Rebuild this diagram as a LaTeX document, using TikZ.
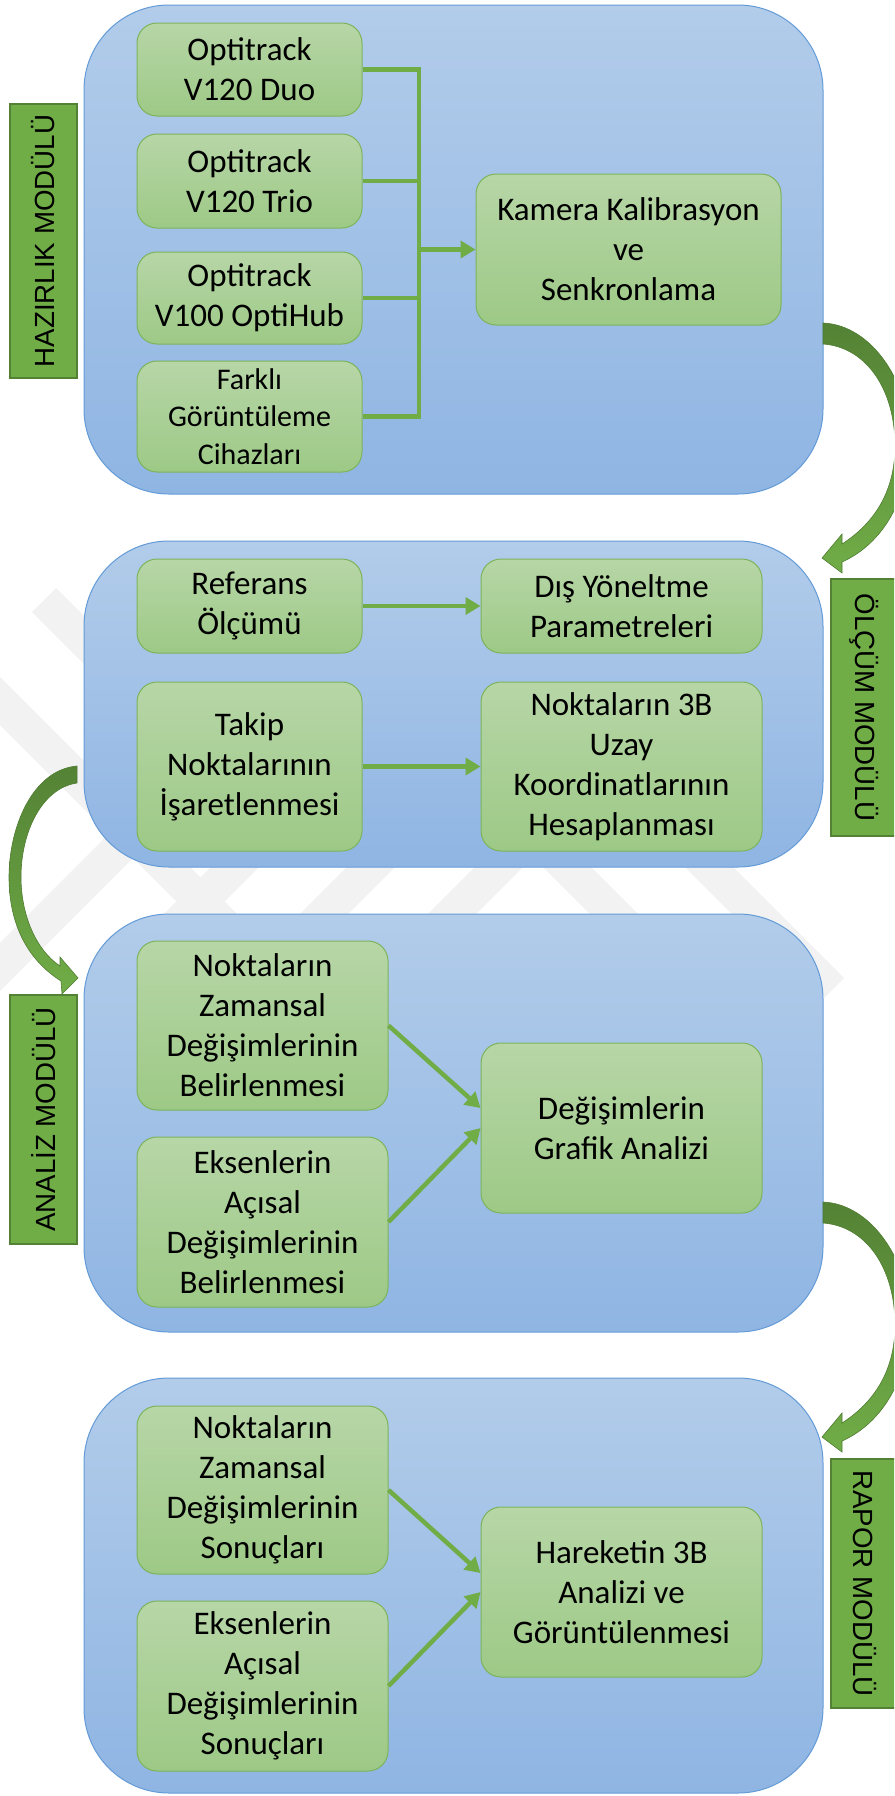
\documentclass[tikz,border=0pt]{standalone}
\usepackage{fontspec}
\setmainfont{Carlito}
\newfontfamily\labelfont{Liberation Sans}
\usetikzlibrary{arrows.meta,calc}
\definecolor{bluetop}{RGB}{178,204,234}
\definecolor{bluebot}{RGB}{143,181,227}
\definecolor{blueline}{RGB}{100,155,215}
\definecolor{greentop}{RGB}{183,214,167}
\definecolor{greenbot}{RGB}{157,201,134}
\definecolor{greenline}{RGB}{125,180,90}
\definecolor{conn}{RGB}{112,173,71}
\definecolor{labelfill}{RGB}{112,173,71}
\definecolor{labelline}{RGB}{84,130,53}
\definecolor{arrdark}{RGB}{84,130,53}
\definecolor{arrmid}{RGB}{92,142,58}
\definecolor{arrline}{RGB}{80,124,50}
\definecolor{wm}{RGB}{242,242,242}
\begin{document}
\begin{tikzpicture}[x=1pt,y=-1pt,
  module/.style={draw=blueline, line width=1pt, rounded corners=85pt, top color=bluetop, bottom color=bluebot, inner sep=0pt},
  item/.style={draw=greenline, line width=1pt, rounded corners=20pt, top color=greentop, bottom color=greenbot, align=center, inner sep=0pt, font=\fontsize{33}{40}\selectfont},
  sidelabel/.style={draw=labelline, line width=1.2pt, fill=labelfill, inner sep=0pt, minimum height=67pt, font=\labelfont\fontsize{27.7}{32}\selectfont},
  link/.style={draw=conn, line width=4.5pt},
  linkarrow/.style={link, -{Triangle[length=15pt,width=17pt]}},
  curvearrow/.style={draw=arrline, line width=0.6pt, top color=arrdark, middle color=arrmid, bottom color=conn},
  wmband/.style={draw=wm, line width=34pt}
]
\useasboundingbox (0,0) rectangle (894,1796);
\clip (0,0) rectangle (894,1796);

% faint watermark bands
\draw[wmband] (44,600) -- (250,806);
\draw[wmband] (-60,641) -- (250,951);
\draw[wmband] (-80,1047) -- (150,817);
\draw[wmband] (152,950) -- (272,830);
\draw[wmband] (288,950) -- (408,830);
\draw[wmband] (416,950) -- (536,830);
\draw[wmband] (530,830) -- (650,950);
\draw[wmband] (672,830) -- (832,990);

% module containers
\node[module, minimum width=739pt, minimum height=489pt] (m1) at (453.5,249.5) {};
\node[module, minimum width=739pt, minimum height=326pt] (m2) at (453.5,704) {};
\node[module, minimum width=739pt, minimum height=418pt] (m3) at (453.5,1123) {};
\node[module, minimum width=739pt, minimum height=415pt] (m4) at (453.5,1585.5) {};

% side labels
\node[sidelabel, minimum width=274pt, rotate=90] (l1) at (43.5,241) {HAZIRLIK MODÜLÜ};
\node[sidelabel, minimum width=257pt, rotate=-90] (l2) at (864.5,707.5) {ÖLÇÜM MODÜLÜ};
\node[sidelabel, minimum width=249pt, rotate=90] (l3) at (43.5,1119.5) {ANALİZ MODÜLÜ};
\node[sidelabel, minimum width=249pt, rotate=-90] (l4) at (864.5,1583.5) {RAPOR MODÜLÜ};

% curved block arrows between modules
\begin{scope}[shift={(0,-879)}]
\path[curvearrow] (823,1202)
  .. controls (872,1204) and (910,1262) .. (910,1322)
  .. controls (908,1385) and (878,1425) .. (842,1441)
  -- (842,1452) -- (822,1437) -- (842,1413) -- (842,1423)
  .. controls (870,1405) and (895,1375) .. (895,1325)
  .. controls (895,1268) and (866,1226) .. (823,1223) -- cycle;
\end{scope}
\path[curvearrow] (77,766)
  .. controls (32,770) and (9,828) .. (9,877)
  .. controls (9,925) and (28,960) .. (61,981)
  -- (62,994) -- (78,978) -- (60,957) -- (60,966)
  .. controls (36,950) and (21,915) .. (21,877)
  .. controls (21,832) and (42,788) .. (77,783) -- cycle;
\path[curvearrow] (823,1202)
  .. controls (872,1204) and (910,1262) .. (910,1322)
  .. controls (908,1385) and (878,1425) .. (842,1441)
  -- (842,1452) -- (822,1437) -- (842,1413) -- (842,1423)
  .. controls (870,1405) and (895,1375) .. (895,1325)
  .. controls (895,1268) and (866,1226) .. (823,1223) -- cycle;

% module 1
\node[item, minimum width=225pt, minimum height=93pt] (duo) at (249.5,69.5) {Optitrack\\V120 Duo};
\node[item, minimum width=225pt, minimum height=94pt] (trio) at (249.5,181) {Optitrack\\V120 Trio};
\node[item, minimum width=225pt, minimum height=92pt] (hub) at (249.5,298) {Optitrack\\V100 OptiHub};
\node[item, minimum width=225pt, minimum height=111pt, font=\fontsize{30}{37.5}\selectfont] (farkli) at (249.5,416.5) {Farklı\\Görüntüleme\\Cihazları};
\node[item, minimum width=305pt, minimum height=151pt] (kamera) at (628.5,249.5) {Kamera Kalibrasyon\\ve\\Senkronlama};
\coordinate (bus) at (419,249.5);
\draw[link] (duo.east) -| (bus);
\draw[link] (trio.east) -| (bus);
\draw[link] (hub.east) -| (bus);
\draw[link] (farkli.east) -| (bus);
\draw[linkarrow] (bus) -- (kamera.west);

% module 2
\node[item, minimum width=225pt, minimum height=94pt] (ref) at (249.5,606) {Referans\\Ölçümü};
\node[item, minimum width=281pt, minimum height=94pt] (dis) at (621.5,606) {Dış Yöneltme\\Parametreleri};
\node[item, minimum width=225pt, minimum height=169pt] (takip) at (249.5,766.5) {Takip\\Noktalarının\\İşaretlenmesi};
\node[item, minimum width=281pt, minimum height=169pt] (uzay) at (621.5,766.5) {Noktaların 3B\\Uzay\\Koordinatlarının\\Hesaplanması};
\draw[linkarrow] (ref.east) -- (dis.west);
\draw[linkarrow] (takip.east) -- (uzay.west);

% module 3
\node[item, minimum width=251pt, minimum height=169pt] (zaman) at (262.5,1025.5) {Noktaların\\Zamansal\\Değişimlerinin\\Belirlenmesi};
\node[item, minimum width=251pt, minimum height=170pt] (eksen) at (262.5,1222) {Eksenlerin\\Açısal\\Değişimlerinin\\Belirlenmesi};
\node[item, minimum width=281pt, minimum height=170pt] (grafik) at (621.5,1128) {Değişimlerin\\Grafik Analizi};
\draw[linkarrow] (zaman.east) -- ($(grafik.west)+(0,-20)$);
\draw[linkarrow] (eksen.east) -- (grafik.west);

% module 4
\node[item, minimum width=251pt, minimum height=168pt] (zaman2) at (262.5,1490) {Noktaların\\Zamansal\\Değişimlerinin\\Sonuçları};
\node[item, minimum width=251pt, minimum height=170pt] (eksen2) at (262.5,1686) {Eksenlerin\\Açısal\\Değişimlerinin\\Sonuçları};
\node[item, minimum width=281pt, minimum height=170pt] (hareket) at (621.5,1592) {Hareketin 3B\\Analizi ve\\Görüntülenmesi};
\draw[linkarrow] (zaman2.east) -- ($(hareket.west)+(0,-19)$);
\draw[linkarrow] (eksen2.east) -- (hareket.west);
\end{tikzpicture}
\end{document}
